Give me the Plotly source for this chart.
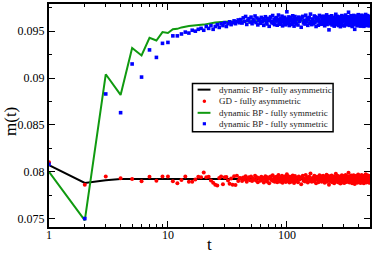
import math
import plotly.graph_objects as go

# ---------------- data ----------------
# dynamic BP - fully asymmetric (black line)
t_bp_asym = [1, 2, 3, 4, 5, 6, 8, 10, 20, 50, 100, 200, 500]
m_bp_asym = [0.0807, 0.0788, 0.0791, 0.07922, 0.07922, 0.07922, 0.07922,
             0.07922, 0.07922, 0.07922, 0.07922, 0.07922, 0.07922]

# dynamic BP - fully symmetric (green line)
t_bp_sym = [1, 2, 3, 4, 5, 6, 7, 8, 9, 10, 11, 12, 13, 14, 15, 20, 25, 30,
            40, 50, 70, 100, 200, 500]
m_bp_sym = [0.0800, 0.0748, 0.0904, 0.0882, 0.0932, 0.0924, 0.0943, 0.0940,
            0.0949, 0.0948, 0.0952, 0.09525, 0.0954, 0.0955, 0.09555, 0.0957,
            0.09592, 0.0960, 0.09603, 0.09606, 0.0961, 0.0961, 0.09612, 0.09612]

# time points of the sampled (noisy) series
t_early = list(range(1, 41))
t_late = list(range(41, 121)) + list(range(122, 501, 2))

# GD - fully asymmetric (red dots)
gd_early = [0.0810, 0.0786, 0.0795, 0.0793]
gd_base = 0.07922
gd_dev_5_40 = [0, -25, 25, -18, 28, 27, -25, -45, -10, 28, -30, -30, -5, 25,
               20, 70, 20, 25, -15, -40, -60, -70, 10, 28, -55, 20, 22, -15,
               -50, 5, -60, 30, -65, 35, -20, 10]
gd_dev_late = [
    8, -20, 15, -5, 30, -28, 2, 18, -12, 26, -22, 6, -4, 36, -15, 20, -34, 10, 0, -18,
    24, -8, 14, -38, 4, 30, -14, -26, 18, 2, -44, 12, 28, -6, -16, 40, -22, 8, -30, 20,
    -4, 24, -34, 10, 44, -18, 4, -28, 16, -10, 34, -40, 22, 0, -14, 26, -6, -32, 12, 52,
    -22, 6, -12, 28, -38, 16, -2, 24, -30, 10, -18, 38, -8, 4, -42, 20, 32, -14, 6, -24,
    14, -34, 28, -4, 12, -56, 22, 34, -18, 2, -26, 42, -10, 18, -36, 8, 24, -20, 60, -6,
    -30, 12, 6, -24, 36, -12, 28, -46, 16, -2, 22, -34, 10, 40, -18, -6, 30, -28, 18, -12,
    34, -22, 4, -40, 24, 12, -16, 46, -30, 6, -8, 32, -62, 18, 2, -24, 28, -14, 38, -34,
    10, -20, 26, -4, -44, 22, 14, -30, 56, -10, 6, -26, 34, -18, 20, -38, 2, 28, -12, 24,
    -48, 16, 8, -22, 40, -6, 26, -36, 12, 0, 32, -42, 18, 6, -28, 44, -16, 24, -32, 4,
    30, -12, -24, 20, 66, -18, 10, -36, 28, -6, 14, -30, 38, -22, 0, 34, -46, 18, -8, 22,
    -14, 40, -32, 6, 22, -52, 12, 28, -18, 8, -26, 36, -10, 24, -40, 16, 4, -22, 48, -12,
    18, -34, 32, -2, -20, 26, 10, -42, 34, -16, 6, -28, 42, -8, 22, -36, 14, -4, 30, -24,
    10, -44, 22, -12, 36, 2, -30, 20, -6, 50, -22, 12, -38, 28, -10, 6, -26, 40, -16, 16,
    -10, 28, -34, 14, -2, 24, -40, 32, -14, 8]

# dynamic BP - fully symmetric (blue squares)
bp_sym_early = [0.0808, 0.0750, 0.0883, 0.0863, 0.0915, 0.0901, 0.0930, 0.0922,
                0.0937, 0.0938, 0.0945, 0.0945, 0.0947, 0.0949, 0.0948, 0.0951,
                0.0950, 0.0952, 0.0953, 0.0951, 0.0955, 0.0953, 0.0956, 0.0952,
                0.0955, 0.0957, 0.0954, 0.0958, 0.0956, 0.0959, 0.0955, 0.0958,
                0.0960, 0.0957, 0.0959, 0.0961, 0.0958, 0.0960, 0.0962, 0.0959]
bp_base = 0.09612
bp_dev_late = [
    12, -25, 30, -8, 45, -40, 5, 22, -15, 38, -32, 10, -5, 50, -20, 28, -45, 15, 0, -28,
    35, -12, 20, -50, 8, 42, -18, -35, 25, 3, -60, 18, 40, -10, -22, 55, -30, 12, -42, 27,
    -5, 33, -48, 15, 60, -25, 7, -38, 22, -14, 48, -55, 30, 2, -20, 36, -8, -44, 18, 95,
    -30, 10, -16, 40, -52, 24, -3, 32, -40, 14, -26, 52, -12, 6, -58, 28, 44, -20, 9, -34,
    20, -46, 38, -6, 16, -70, 30, 46, -24, 4, -36, 58, -14, 26, -50, 12, 34, -28, 70, -10,
    -42, 18, 8, -32, 50, -18, 40, -62, 22, -4, 30, -48, 14, 56, -26, -8, 42, -38, 24, -16,
    48, -30, 6, -54, 34, 16, -22, 62, -40, 10, -12, 44, -98, 26, 2, -34, 38, -20, 52, -46,
    14, -28, 36, -6, -58, 30, 20, -42, 68, -14, 8, -36, 46, -24, 28, -52, 4, 40, -18, 32,
    -64, 22, 12, -30, 54, -10, 36, -48, 18, -2, 44, -56, 26, 10, -38, 60, -22, 34, -44, 6,
    42, -16, -34, 28, 90, -26, 14, -50, 38, -8, 20, -40, 52, -30, 0, 46, -62, 24, -12, 32,
    -20, 56, -44, 8, 30, -92, 18, 40, -26, 12, -36, 50, -14, 34, -54, 22, 6, -32, 64, -18,
    26, -46, 44, -4, -28, 36, 16, -58, 48, -22, 10, -40, 58, -12, 30, -50, 20, -6, 42, -34,
    14, -60, 32, -18, 50, 2, -42, 28, -8, 66, -30, 18, -52, 38, -16, 8, -36, 54, -24, 24,
    -14, 40, -48, 20, -2, 34, -56, 46, -20, 12]

legend_labels = ["dynamic BP - fully asymmetric", "GD - fully asymmetric",
                 "dynamic BP - fully symmetric", "dynamic BP - fully symmetric"]

y_tickvals = [0.075, 0.08, 0.085, 0.09, 0.095]
y_ticktext = ["0.075", "0.08", "0.085", "0.09", "0.095"]
x_tickvals = [1, 10, 100]
x_ticktext = ["1", "10", "100"]

# ---------------- build series ----------------
t_gd = t_early + t_late
m_gd = gd_early + [gd_base + d * 1e-5 for d in gd_dev_5_40] + \
       [gd_base + d * 1e-5 for d in gd_dev_late]
t_bpd = t_early + t_late
m_bpd = bp_sym_early + [bp_base + d * 1e-5 for d in bp_dev_late]

RED = "#ff0000"
BLUE = "#0000ff"
GREEN = "#109a10"
FONT = "Liberation Serif"

fig = go.Figure()
fig.add_trace(go.Scatter(x=t_bp_asym, y=m_bp_asym, mode="lines",
                         line=dict(color="black", width=2), showlegend=False))
fig.add_trace(go.Scatter(x=t_gd, y=m_gd, mode="markers",
                         marker=dict(color=RED, size=4, symbol="circle", line=dict(width=0)),
                         showlegend=False))
fig.add_trace(go.Scatter(x=t_bp_sym, y=m_bp_sym, mode="lines",
                         line=dict(color=GREEN, width=2), showlegend=False))
fig.add_trace(go.Scatter(x=t_bpd, y=m_bpd, mode="markers",
                         marker=dict(color=BLUE, size=3.6, symbol="square", line=dict(width=0)),
                         showlegend=False))

minor_x = [v * 10 ** k for k in range(3) for v in range(2, 10) if v * 10 ** k <= 500]

fig.update_xaxes(type="log", range=[0, 2.699], tickvals=x_tickvals, showticklabels=False,
                 ticks="inside", ticklen=6, tickwidth=1.2, tickcolor="black",
                 showline=True, linewidth=2, linecolor="black", mirror="ticks",
                 showgrid=False, zeroline=False,
                 minor=dict(tickvals=minor_x, ticks="inside", ticklen=3, tickwidth=1,
                            tickcolor="black", showgrid=False))
fig.update_yaxes(range=[0.0741, 0.0979], tickvals=y_tickvals, ticktext=y_ticktext,
                 ticks="inside", ticklen=6, tickwidth=1.2, tickcolor="black",
                 showline=True, linewidth=2, linecolor="black", mirror="ticks",
                 showgrid=False, zeroline=False,
                 minor=dict(tickvals=[0.0775, 0.0825, 0.0875, 0.0925, 0.0975],
                            ticks="inside", ticklen=3, tickwidth=1, tickcolor="black",
                            showgrid=False),
                 tickfont=dict(family=FONT, size=12, color="black"))

# ---------------- legend box (drawn manually for compact rows) ----------------
lx0, lx1, ly0, ly1 = 0.447, 0.885, 0.427, 0.644
rows = [0.616, 0.564, 0.512, 0.463]
sx0, sx1, sxc = 0.463, 0.503, 0.484
shapes = [dict(type="rect", xref="paper", yref="paper", x0=lx0, x1=lx1, y0=ly0, y1=ly1,
               line=dict(color="black", width=1.5), fillcolor="white", layer="above")]
shapes.append(dict(type="line", xref="paper", yref="paper", x0=sx0, x1=sx1,
                   y0=rows[0], y1=rows[0], line=dict(color="black", width=2), layer="above"))
shapes.append(dict(type="circle", xref="paper", yref="paper", x0=sxc - 0.0055, x1=sxc + 0.0055,
                   y0=rows[1] - 0.008, y1=rows[1] + 0.008, line=dict(width=0),
                   fillcolor=RED, layer="above"))
shapes.append(dict(type="line", xref="paper", yref="paper", x0=sx0, x1=sx1,
                   y0=rows[2], y1=rows[2], line=dict(color=GREEN, width=2), layer="above"))
shapes.append(dict(type="rect", xref="paper", yref="paper", x0=sxc - 0.005, x1=sxc + 0.005,
                   y0=rows[3] - 0.007, y1=rows[3] + 0.007, line=dict(width=0),
                   fillcolor=BLUE, layer="above"))
annotations = [dict(xref="paper", yref="paper", x=0.522, y=r, text=lab, showarrow=False,
                    xanchor="left", yanchor="middle",
                    font=dict(family=FONT, size=9, color="#222222"))
               for r, lab in zip(rows, legend_labels)]
# x tick labels
for v, lab in zip(x_tickvals, x_ticktext):
    annotations.append(dict(xref="x", yref="paper", x=math.log10(v), y=-0.038, text=lab,
                            showarrow=False, xanchor="center", yanchor="middle",
                            font=dict(family=FONT, size=12, color="black")))
# axis titles
annotations.append(dict(xref="paper", yref="paper", x=0.5, y=-0.08, text="t",
                        showarrow=False, xanchor="center", yanchor="middle",
                        font=dict(family=FONT, size=17, color="black")))
annotations.append(dict(xref="paper", yref="paper", x=-0.12, y=0.473, text="m(t)",
                        showarrow=False, xanchor="center", yanchor="middle", textangle=-90,
                        font=dict(family=FONT, size=17, color="black")))

fig.update_layout(width=374, height=253, margin=dict(l=49, r=3, t=2, b=26),
                  paper_bgcolor="white", plot_bgcolor="white", showlegend=False,
                  shapes=shapes, annotations=annotations)

fig.write_html("out.html", config={"displayModeBar": False},
               post_script="document.body.style.margin='0';document.body.style.overflow='hidden';")
